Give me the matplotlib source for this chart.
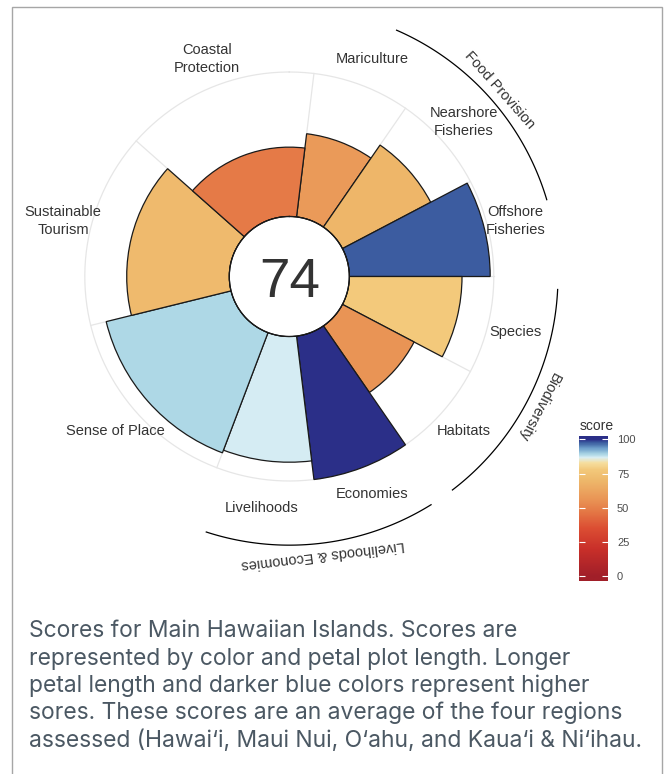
import numpy as np
import matplotlib
matplotlib.use("Agg")
import matplotlib.pyplot as plt
from matplotlib.colors import LinearSegmentedColormap, Normalize
from matplotlib.patches import Rectangle

# petals, clockwise from the top
goals = ["Mariculture", "Nearshore\nFisheries", "Offshore\nFisheries", "Species", "Habitats",
         "Economies", "Livelihoods", "Sense of Place", "Sustainable\nTourism", "Coastal\nProtection"]
scores = [58, 69, 97.5, 78, 56, 100, 87, 89, 71, 48]
weights = [1, 1, 1, 1, 1, 1, 1, 2, 2, 2]
index_score = 74

supra_goals = ["Food Provision", "Biodiversity", "Livelihoods & Economies"]
supra_members = [[0, 1, 2], [3, 4], [5, 6]]

legend_ticks = [0, 25, 50, 75, 100]

caption = [
    "Scores for Main Hawaiian Islands. Scores are",
    "represented by color and petal plot length. Longer",
    "petal length and darker blue colors represent higher",
    "sores. These scores are an average of the four regions",
    "assessed (Hawai\u2018i, Maui Nui, O\u2018ahu, and Kaua\u2018i & Ni\u2018ihau.",
]

# score colour ramp (red -> yellow -> blue)
ramp = [(0, "#a11f29"), (20, "#c9302a"), (35, "#dc4e33"), (48, "#e57b47"),
        (57, "#ea9757"), (70, "#eeb86b"), (78, "#f3c97b"), (83, "#f6dfa0"),
        (86.8, "#daeff5"), (89, "#aed8e6"), (93.5, "#6e9fcb"), (97.6, "#3c5da0"),
        (100, "#2b2f88")]
cmap = LinearSegmentedColormap.from_list("ohi", [(v / 100, c) for v, c in ramp])
norm = Normalize(0, 100, clip=True)

W, H = 669, 774
cx, cy = 289.3, 276.5      # flower centre, pixels from top-left
px = 1.445                 # pixels per score unit
hole = 60 / px             # blank centre, in score units
rtop = 150
R = (rtop + hole) * px

fig = plt.figure(figsize=(W / 100, H / 100), dpi=100)
fig.patch.set_facecolor("white")

ax = fig.add_axes([(cx - R) / W, (H - cy - R) / H, 2 * R / W, 2 * R / H], projection="polar")
ax.set_theta_zero_location("N")
ax.set_theta_direction(-1)
ax.set_rorigin(-hole)
ax.set_ylim(0, rtop)
ax.set_facecolor("none")
ax.grid(False)
ax.set_xticks([])
ax.set_yticks([])
for s in ax.spines.values():
    s.set_visible(False)

unit = 2 * np.pi / sum(weights)
edges = unit / 4 + np.concatenate([[0], np.cumsum(weights)]) * unit
theta = (edges[:-1] + edges[1:]) / 2
width = np.diff(edges)

tt = np.linspace(0, 2 * np.pi, 500)
grid_col = "#e6e6e6"
ax.plot(tt, np.full_like(tt, 100), color=grid_col, lw=0.9, zorder=0)
for e in edges[:-1]:
    ax.plot([e, e], [0, 100], color=grid_col, lw=0.9, zorder=0)

ax.bar(theta, scores, width=width, bottom=0, color=cmap(norm(scores)),
       edgecolor="#1a1a1a", linewidth=0.9, zorder=2)
ax.plot(tt, np.zeros_like(tt), color="#1a1a1a", lw=0.9, clip_on=False, zorder=3)

for t, g in zip(theta, goals):
    ax.text(t, 119.7, g, ha="center", va="center", fontsize=10.5, linespacing=1.37,
            color="#333333", family="Liberation Sans")

for name, members in zip(supra_goals, supra_members):
    c = (edges[members[0]] + edges[members[-1] + 1]) / 2
    arc = np.linspace(c - 0.9 * unit, c + 0.9 * unit, 120)
    ax.plot(arc, np.full_like(arc, 144.4), color="black", lw=0.9, zorder=3)
    ax.text(c, 152.8, name, rotation=-np.degrees(c), rotation_mode="anchor",
            ha="center", va="center", fontsize=10.5, color="#333333",
            family="Liberation Sans")

fig.text(cx / W, 1 - 296.7 / H, str(index_score), ha="center", va="baseline",
         fontsize=39.5, color="#333333", family="Liberation Sans")

# colour legend
lo, hi = -3.3, 102.9
cax = fig.add_axes([579 / W, (H - 580.6) / H, 29 / W, 145.1 / H])
grad = np.linspace(lo, hi, 300).reshape(-1, 1)
cax.imshow(grad, extent=[0, 1, lo, hi], origin="lower", aspect="auto", cmap=cmap, norm=norm)
cax.set_xlim(0, 1)
cax.set_ylim(lo, hi)
cax.set_xticks([])
cax.set_yticks(legend_ticks)
cax.yaxis.tick_right()
cax.tick_params(axis="y", left=True, right=True, direction="in", length=4.3, width=0.8,
                color="white", labelsize=8, labelcolor="#4d4d4d", pad=6.5)
for lab in cax.get_yticklabels():
    lab.set_family("Liberation Sans")
for s in cax.spines.values():
    s.set_visible(False)
fig.text(580 / W, 1 - 430 / H, "score", ha="left", va="baseline", fontsize=10,
         color="#333333", family="Liberation Sans")

# caption under the chart; size fitted so the lines span ~2800 px in total
cap_font = "Inter"
cap_fs = 13.0
probes = [fig.text(0, 0, line, fontsize=cap_fs, family=cap_font) for line in caption]
fig.canvas.draw()
total = sum(p.get_window_extent().width for p in probes)
cap_fs *= 2800 / total
for p in probes:
    p.remove()
for i, line in enumerate(caption):
    fig.text(29.3 / W, 1 - (637.3 + i * 27.35) / H, line, ha="left", va="baseline",
             fontsize=cap_fs, color="#4b5863", family=cap_font)

fig.add_artist(Rectangle((12.3 / W, -0.05), (661.7 - 12.3) / W, 1.05 - 6.8 / H,
                         transform=fig.transFigure, fill=False, ec="#a6a6a6", lw=1.0))

fig.savefig("out.png", dpi=100)
